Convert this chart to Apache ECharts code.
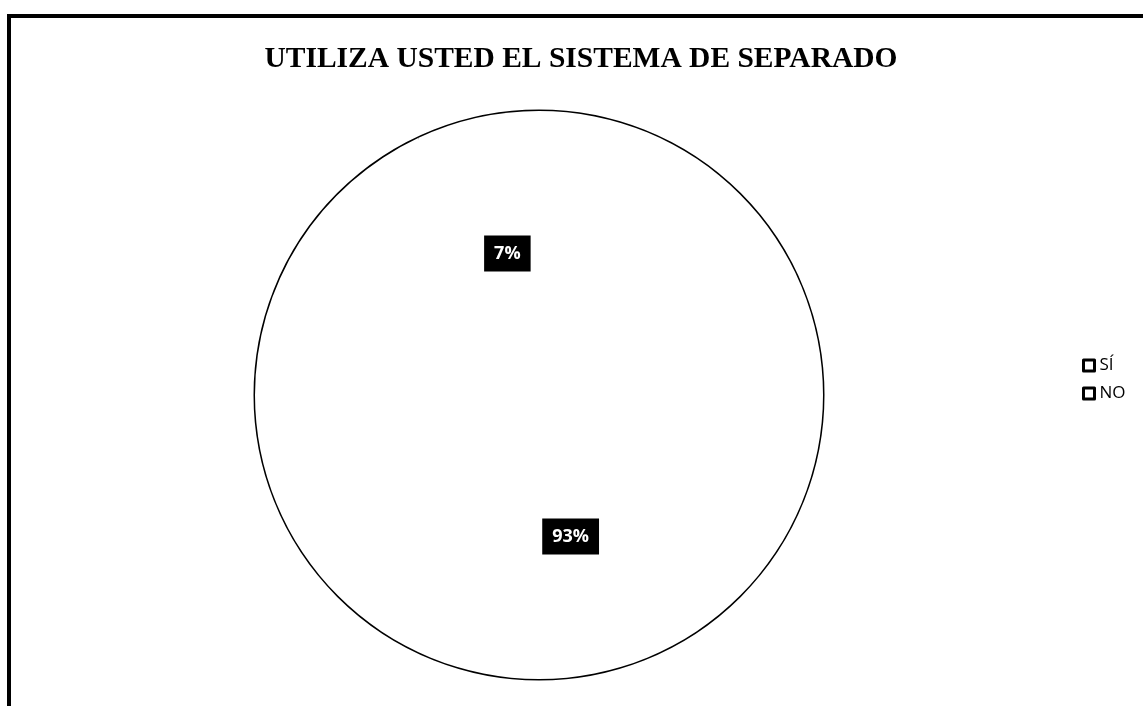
<!DOCTYPE html>
<html>
<head>
<meta charset="utf-8">
<script src="https://cdn.jsdelivr.net/npm/echarts@6/dist/echarts.min.js"></script>
<style>
html,body{margin:0;padding:0;background:#fff;}
#frame{position:absolute;left:7px;top:14px;width:1136px;height:692px;border-left:4px solid #000;border-top:4px solid #000;box-sizing:border-box;}
#chart{position:absolute;left:0;top:0;width:1143px;height:706px;}
</style>
</head>
<body>
<div id="frame"></div>
<div id="chart"></div>
<script>
const titleText = 'UTILIZA USTED EL SISTEMA DE SEPARADO';
const categories = ['SÍ', 'NO'];
const values = [7, 93];

const chart = echarts.init(document.getElementById('chart'), null, {renderer: 'canvas'});
// draw order: NO first, then SÍ (clockwise from 12 o'clock)
const pieData = [
  {name: categories[1], value: values[1]},
  {name: categories[0], value: values[0]}
];
const total = values.reduce((a, b) => a + b, 0);
const center = [539, 395];
const radius = 284;

chart.setOption({
  backgroundColor: 'transparent',
  animation: false,
  title: {
    text: titleText,
    left: 576,
    textAlign: 'center',
    top: 39,
    textStyle: {fontFamily: 'Liberation Serif', fontWeight: 'bold', fontSize: 29.5, color: '#000'}
  },
  legend: {
    data: categories,
    orient: 'vertical',
    left: 1077,
    top: 352,
    itemWidth: 11,
    itemHeight: 11,
    itemGap: 11,
    icon: 'rect',
    itemStyle: {color: '#fff', borderColor: '#000', borderWidth: 3},
    textStyle: {fontFamily: 'Open Sans', fontSize: 17, color: '#000'}
  },
  series: [
    {
      type: 'pie',
      radius: radius,
      center: center,
      startAngle: 90,
      clockwise: true,
      data: pieData,
      itemStyle: {color: '#fff', borderWidth: 0},
      label: {
        show: true,
        position: 'inner',
        formatter: '{d}%',
        color: '#fff',
        backgroundColor: '#000',
        padding: [9, 10, 9, 10],
        fontFamily: 'Open Sans',
        fontWeight: 'bold',
        fontSize: 18
      },
      labelLine: {show: false},
      emphasis: {disabled: true},
      z: 2
    },
    {
      type: 'pie',
      radius: radius,
      center: center,
      silent: true,
      data: [{name: 'outline', value: total}],
      itemStyle: {color: 'rgba(0,0,0,0)', borderColor: '#000', borderWidth: 3},
      label: {show: false},
      labelLine: {show: false},
      emphasis: {disabled: true},
      z: 1
    }
  ]
});
</script>
</body>
</html>
